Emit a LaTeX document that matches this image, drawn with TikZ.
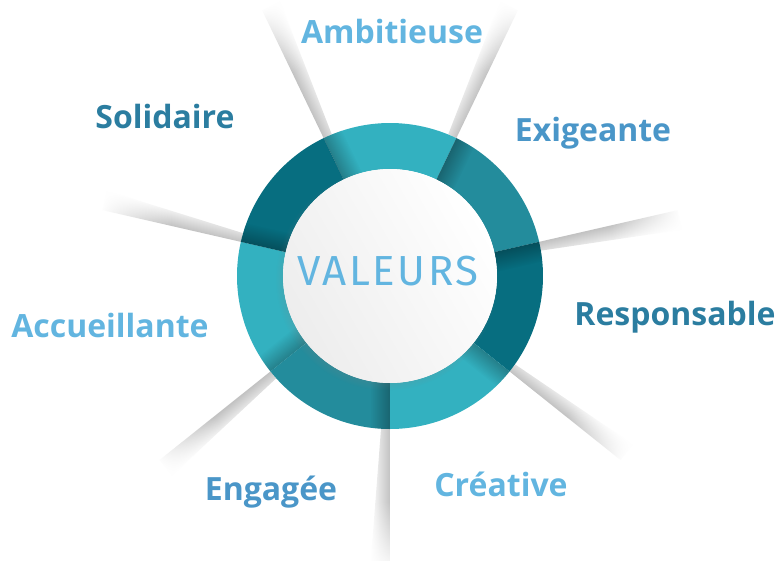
\documentclass[tikz,border=0pt]{standalone}
\usepackage{fontspec}
\newfontfamily\labelfont{Open Sans}
\newfontfamily\titlefont[LetterSpace=6]{Fira Sans}
\usetikzlibrary{fadings,shadows}
\definecolor{ringlight}{HTML}{33B1C0}
\definecolor{ringmid}{HTML}{238C9C}
\definecolor{ringdark}{HTML}{076E80}
\definecolor{textlight}{HTML}{62B5E0}
\definecolor{textmid}{HTML}{4A96C8}
\definecolor{textdark}{HTML}{2B7DA0}
\tikzfading[name=rayend, left color=transparent!100, right color=transparent!0]
\tikzfading[name=edgeshade, top color=transparent!0, bottom color=transparent!100]
\tikzset{
  valeur/.style={font=\labelfont\bfseries\fontsize{32}{32}\selectfont, anchor=base},
  raycw/.style={top color=black!24, bottom color=white},
  rayccw/.style={bottom color=black!24, top color=white}
}
\def\ringpart(#1:#2)#3{\fill[#3] (#1:153pt) arc (#1:#2:153pt) -- (#2:107pt) arc (#2:#1:107pt) -- cycle;}
\def\ringshade(#1:#2){\begin{scope}
  \clip (#1:153pt) arc (#1:#2:153pt) -- (#2:107pt) arc (#2:#1:107pt) -- cycle;
  \begin{scope}[transform canvas={rotate=#2}]
    \fill[black, fill opacity=0.28, path fading=edgeshade] (100,0) rectangle (160,-20);
  \end{scope}\end{scope}}
\def\valray(#1)[#2]#3{\begin{scope}[transform canvas={rotate=#1}]
  \shade[#2] (153,0) -- (295,0) -- (295,#3*20) -- (153,#3*9) -- cycle;
  \fill[white, path fading=rayend] (225,-24) rectangle (297,24);
  \end{scope}}

\begin{document}
\begin{tikzpicture}[x=1pt, y=1pt]
			%%%%% START %%%%%
			\useasboundingbox (-390,-284) rectangle (389,276);
			
			% rays
			\valray(115.7)[raycw]{-1}
			\valray(64.3)[rayccw]{1}
			\valray(12.9)[raycw]{-1}
			\valray(-38.6)[rayccw]{1}
			\valray(-90)[raycw]{-1}
			\valray(-141.4)[rayccw]{1}
			\valray(167.1)[raycw]{-1}
			
			% ring
			\ringpart(64.3:115.7){ringlight}
			\ringpart(12.9:64.3){ringmid}
			\ringpart(-38.6:12.9){ringdark}
			\ringpart(-90:-38.6){ringlight}
			\ringpart(-141.4:-90){ringmid}
			\ringpart(167.1:218.6){ringlight}
			\ringpart(115.7:167.1){ringdark}
			
			\ringshade(64.3:115.7)
			\ringshade(12.9:64.3)
			\ringshade(-38.6:12.9)
			\ringshade(-90:-38.6)
			\ringshade(-141.4:-90)
			\ringshade(167.1:218.6)
			\ringshade(115.7:167.1)
			
			% centre
			\node[circle, minimum size=214pt, inner sep=0pt, left color=black!7, right color=white, shading angle=120,
			  circular drop shadow={shadow scale=1.04, shadow xshift=-3pt, shadow yshift=-3pt, opacity=0.35}] (centre) at (0,0) {};
			\node[anchor=base, text=textlight, font=\titlefont\fontsize{42}{42}\selectfont] (valeurs) at (-2,-9) {VALEURS};
			
			% labels
			\node[valeur, text=textlight] (ambitieuse) at (2,232) {Ambitieuse};
			\node[valeur, text=textmid] (exigeante) at (203,135) {Exigeante};
			\node[valeur, text=textdark] (responsable) at (285,-49) {Responsable};
			\node[valeur, text=textlight] (creative) at (111,-220) {Créative};
			\node[valeur, text=textmid] (engagee) at (-119,-224) {Engagée};
			\node[valeur, text=textlight] (accueillante) at (-280,-61) {Accueillante};
			\node[valeur, text=textdark] (solidaire) at (-225,147) {Solidaire};
			
			%%%%% END %%%%%
\end{tikzpicture}
\end{document}
